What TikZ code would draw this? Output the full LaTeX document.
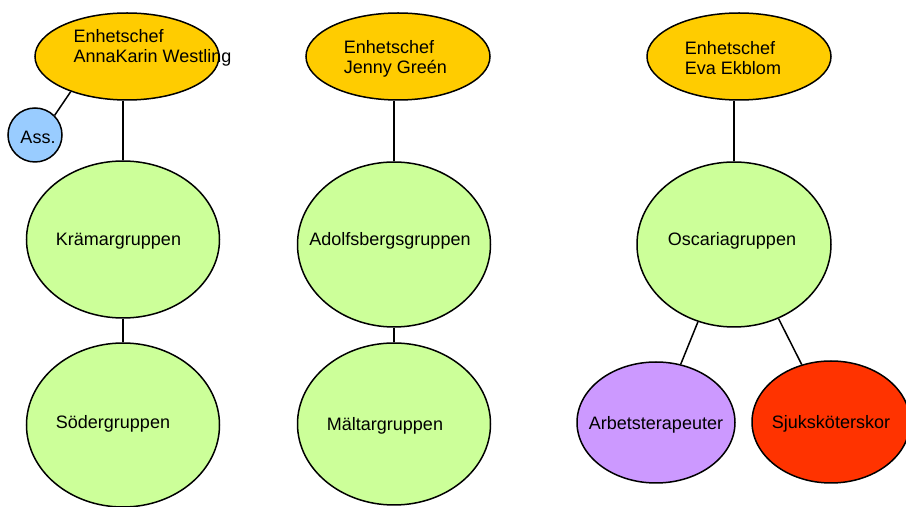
\documentclass[tikz,border=0pt]{standalone}
\usepackage{fontspec}
\setmainfont{Liberation Sans}
\usetikzlibrary{shapes.geometric}
\definecolor{chefgul}{HTML}{FFCC00}
\definecolor{assbla}{HTML}{99CCFF}
\definecolor{gruppgron}{HTML}{CCFF99}
\definecolor{arblila}{HTML}{CC99FF}
\definecolor{sjukrod}{HTML}{FF3300}
\tikzset{
  blob/.style={ellipse, draw, line width=0.75pt, inner sep=0pt},
  chef/.style={blob, fill=chefgul, minimum width=92pt, minimum height=43.5pt},
  grupp/.style={blob, fill=gruppgron, minimum width=96.5pt},
  every label/.style={align=left, inner sep=0pt, yshift=-1pt},
  link/.style={line width=0.75pt}
}
\begin{document}
\begin{tikzpicture}[x=0.5pt, y=-0.5pt, font=\fontsize{9pt}{10pt}\selectfont]
\useasboundingbox (0,0) rectangle (906,507);
% enhetschefer
\node [chef, label={[xshift=12.75pt, yshift=5.5pt]center:{Enhetschef\\AnnaKarin Westling}}] (chefA) at (127,56.5) {};
\node [chef, label={[xshift=-1.25pt]center:{Enhetschef\\Jenny Greén}}] (chefB) at (398,56.5) {};
\node [chef, label={[xshift=-3pt]center:{Enhetschef\\Eva Ekblom}}] (chefC) at (739,56.5) {};
\node [blob, circle, fill=assbla, minimum size=27pt, label={[xshift=1.5pt]center:Ass.}] (ass) at (35,135) {};
% grupper
\node [grupp, minimum height=78.5pt, label={[xshift=-2.25pt]center:Krämargruppen}] (kram) at (123,239.5) {};
\node [grupp, minimum height=82pt, label={[xshift=-5pt, yshift=1.5pt]center:Södergruppen}] (soder) at (123,425) {};
\node [grupp, minimum height=82.5pt, label={[xshift=-2pt, yshift=2.75pt]center:Adolfsbergsgruppen}] (adolf) at (394,244.5) {};
\node [grupp, minimum height=81pt, label={[xshift=-4.5pt]center:Mältargruppen}] (malt) at (394,424) {};
\node [grupp, minimum width=97pt, minimum height=82.5pt, label={[xshift=-1pt, yshift=2.75pt]center:Oscariagruppen}] (oscar) at (734,244.5) {};
\node [blob, fill=arblila, minimum width=79pt, minimum height=60.5pt, label={center:Arbetsterapeuter}] (arbet) at (656,422.5) {};
\node [blob, fill=sjukrod, minimum width=79pt, minimum height=61pt, label={center:Sjuksköterskor}] (sjuk) at (831,422) {};
% linjer
\draw [link] (chefA.212) -- (ass.45);
\draw [link] (kram.north |- chefA.south) -- (kram.north);
\draw [link] (kram) -- (soder);
\draw [link] (adolf.north |- chefB.south) -- (adolf.north);
\draw [link] (adolf) -- (malt);
\draw [link] (oscar.north |- chefC.south) -- (oscar.north);
\draw [link] (oscar.245) -- (arbet.67);
\draw [link] (oscar.301) -- (sjuk.117);
\end{tikzpicture}
\end{document}
